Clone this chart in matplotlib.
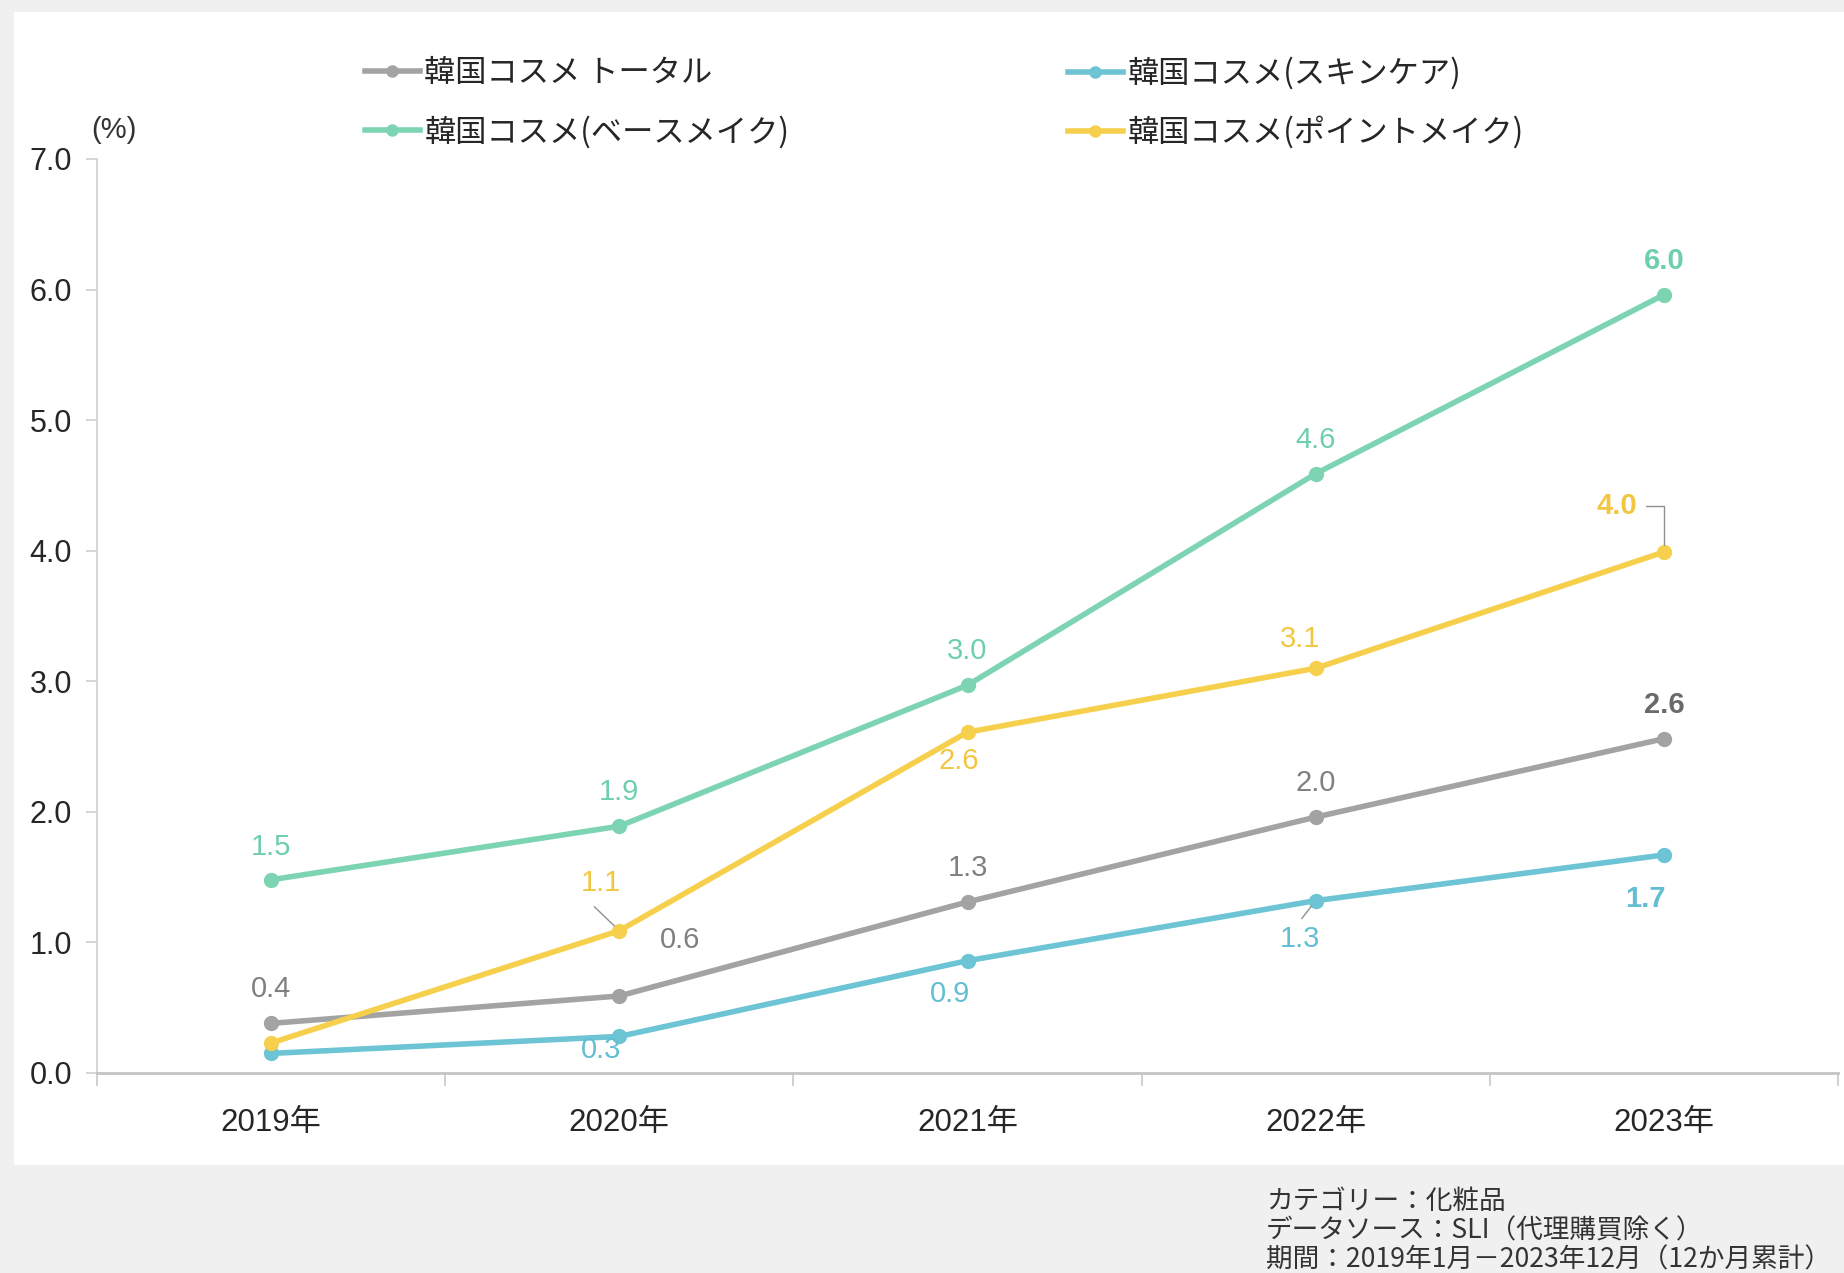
import matplotlib
matplotlib.use("Agg")
import matplotlib.pyplot as plt
from matplotlib.patches import Rectangle

plt.rcParams['font.family'] = ['Liberation Sans', 'Noto Sans CJK JP', 'DejaVu Sans']

# ---- data ----
years = ["2019年", "2020年", "2021年", "2022年", "2023年"]
total = [0.38, 0.59, 1.31, 1.96, 2.56]
skincare = [0.15, 0.28, 0.86, 1.32, 1.67]
basemake = [1.48, 1.89, 2.97, 4.59, 5.96]
pointmake = [0.23, 1.09, 2.61, 3.10, 3.99]

total_labels = ["0.4", "0.6", "1.3", "2.0", "2.6"]
skincare_labels = [None, "0.3", "0.9", "1.3", "1.7"]
base_labels = ["1.5", "1.9", "3.0", "4.6", "6.0"]
point_labels = [None, "1.1", "2.6", "3.1", "4.0"]

series_names = ["韓国コスメ トータル", "韓国コスメ(スキンケア)",
                "韓国コスメ(ベースメイク)", "韓国コスメ(ポイントメイク)"]
yticks = [0.0, 1.0, 2.0, 3.0, 4.0, 5.0, 6.0, 7.0]
notes = ["カテゴリー：化粧品", "データソース：SLI（代理購買除く）",
         "期間：2019年1月－2023年12月（12か月累計）"]

# ---- style ----
c_total, c_skin, c_base, c_point = "#a3a3a3", "#6cc4d4", "#7dd4b3", "#f6d04d"
t_total, t_skin, t_base, t_point = "#808080", "#62bfd1", "#6dcfac", "#f3c640"

W, H = 1844, 1273
fig = plt.figure(figsize=(W / 100, H / 100), dpi=100)
fig.patch.set_facecolor("#f0f0f0")
fig.add_artist(Rectangle((14 / W, 1 - 1165 / H), (W - 14) / W, (1165 - 12) / H,
                         transform=fig.transFigure, facecolor="white",
                         edgecolor="none", zorder=0))

ax = fig.add_axes([97 / W, 1 - 1073 / H, (1838 - 97) / W, (1073 - 159) / H])
ax.set_facecolor("none")
x = list(range(len(years)))

lw, ms = 4.0, 10
l_total, = ax.plot(x, total, color=c_total, lw=lw, marker="o", ms=ms, zorder=3)
l_skin, = ax.plot(x, skincare, color=c_skin, lw=lw, marker="o", ms=ms, zorder=3)
l_base, = ax.plot(x, basemake, color=c_base, lw=lw, marker="o", ms=ms, zorder=3)
l_point, = ax.plot(x, pointmake, color=c_point, lw=lw, marker="o", ms=ms, zorder=3)

ax.set_xlim(-0.5, 4.5)
ax.set_ylim(0, 7)
ax.set_yticks(yticks)
ax.set_yticklabels([f"{v:.1f}" for v in yticks], fontsize=22, color="#262626")
ax.set_xticks(x)
ax.set_xticklabels(years, fontsize=22.5, color="#262626")
ax.set_xticks([-0.5, 0.5, 1.5, 2.5, 3.5, 4.5], minor=True)
ax.tick_params(axis="x", which="major", length=0, pad=25)
ax.tick_params(axis="x", which="minor", length=9, width=1.2, color="#c8c8c8")
ax.tick_params(axis="y", length=8, width=1.2, color="#d0d0d0", pad=10)
for s in ["top", "right"]:
    ax.spines[s].set_visible(False)
ax.spines["left"].set_color("#d6d6d6")
ax.spines["left"].set_linewidth(1.5)
ax.spines["bottom"].set_color("#c4c4c4")
ax.spines["bottom"].set_linewidth(2.0)

fig.text(114 / W, 1 - 130 / H, "(%)", fontsize=21, color="#333333",
         ha="center", va="center")

# ---- data labels ----
def put(vals, labels, offs, color, bold_last=True, bold_color=None):
    for i, (v, lab) in enumerate(zip(vals, labels)):
        if lab is None:
            continue
        bold = bold_last and i == len(vals) - 1
        ax.annotate(lab, xy=(i, v), xytext=offs[i], textcoords="offset pixels",
                    ha="center", va="center", fontsize=21,
                    color=(bold_color if (bold and bold_color) else color),
                    fontweight="bold" if bold else "normal", zorder=5)

put(total, total_labels, [(0, 34), (61, 56), (0, 34), (0, 34), (0, 34)],
    t_total, bold_color="#6a6a6a")
put(skincare, skincare_labels, [(0, 0), (-18, -14), (-18, -33), (-16, -38), (-19, -44)],
    t_skin)
put(basemake, base_labels, [(0, 33), (0, 34), (0, 34), (0, 34), (0, 34)], t_base)
put(pointmake, point_labels, [(0, 0), (-18, 48), (-9, -29), (-16, 29), (-47, 46)],
    t_point)

# leader lines
lead = dict(arrowstyle="-", color="#909090", lw=1.0, shrinkA=0, shrinkB=5)
ax.annotate("", xy=(1, pointmake[1]), xytext=(-25, 24), textcoords="offset pixels",
            arrowprops=lead)
ax.annotate("", xy=(3, skincare[3]), xytext=(-14, -18), textcoords="offset pixels",
            arrowprops=lead)
ax.annotate("", xy=(4, pointmake[4]), xytext=(-18, 46), textcoords="offset pixels",
            arrowprops=dict(arrowstyle="-", color="#909090", lw=1.0, shrinkA=0,
                            shrinkB=5, connectionstyle="angle,angleA=0,angleB=90,rad=0"))

# ---- legend ----
leg_kw = dict(frameon=False, handlelength=1.75, handletextpad=0.15,
              labelspacing=0.85, borderaxespad=0, borderpad=0,
              prop={"family": ["Noto Sans CJK JP"], "size": 22.5})
leg1 = fig.legend([l_total, l_base], [series_names[0], series_names[2]],
                  loc="upper left", bbox_to_anchor=(365 / W, 1 - 57 / H), **leg_kw)
leg2 = fig.legend([l_skin, l_point], [series_names[1], series_names[3]],
                  loc="upper left", bbox_to_anchor=(1068 / W, 1 - 57 / H), **leg_kw)
for lg in (leg1, leg2):
    for t in lg.get_texts():
        t.set_color("#262626")
    for h in lg.legend_handles:
        h.set_markersize(8)

# ---- notes ----
for k, line in enumerate(notes):
    fig.text(1266 / W, 1 - (1201 + k * 29.5) / H, line, fontsize=19.2, color="#333333",
             ha="left", va="center", family=["Noto Sans CJK JP"])

fig.savefig("out.png", dpi=100, facecolor=fig.get_facecolor())
